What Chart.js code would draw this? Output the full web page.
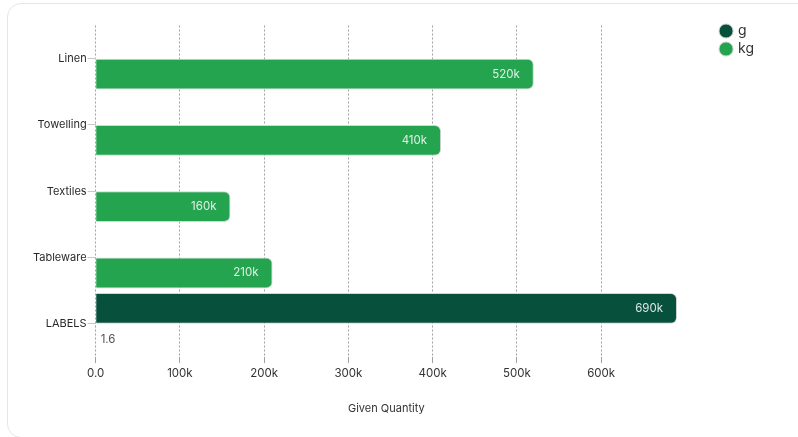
<!DOCTYPE html>
<html>
<head>
<meta charset="utf-8">
<script src="https://cdn.jsdelivr.net/npm/chart.js@4/dist/chart.umd.min.js"></script>
<style>
  html, body { margin: 0; padding: 0; background: #fff; overflow: hidden; }
  .card { position: absolute; left: 7px; top: 3px; width: 900px; height: 433px; border: 1px solid #e6e6e6; border-radius: 14px; }
  .wrap { position: absolute; left: 0; top: 0; width: 798px; height: 437px; }
</style>
</head>
<body>
<div class="card"></div>
<div class="wrap"><canvas id="chart"></canvas></div>
<script>
const categories = ['Linen', 'Towelling', 'Textiles', 'Tableware', 'LABELS'];
const gValues = [null, null, null, null, 690000];
const kgValues = [520000, 410000, 160000, 210000, 1.6];
const seriesNames = ['g', 'kg'];
const axisTitle = 'Given Quantity';

const fmt = v => v >= 1000 ? (v / 1000) + 'k' : Number(v).toFixed(1);

// values written at the end of each bar
const barLabels = {
    id: 'barLabels',
    afterDatasetsDraw(chart) {
        const ctx = chart.ctx;
        ctx.save();
        ctx.font = '11.5px Inter';
        ctx.textBaseline = 'middle';
        chart.data.datasets.forEach((ds, i) => {
            chart.getDatasetMeta(i).data.forEach((bar, j) => {
                const v = ds.data[j];
                if(v == null) return;
                const txt = fmt(v);
                const w = ctx.measureText(txt).width;
                if(bar.x - bar.base > w + 20) {
                    ctx.textAlign = 'right';
                    ctx.fillStyle = 'rgba(255,255,255,0.85)';
                    ctx.fillText(txt, bar.x - 14, bar.y);
                } else {
                    ctx.textAlign = 'left';
                    ctx.fillStyle = '#555';
                    ctx.fillText(txt, bar.x + 5, bar.y);
                }
            });
        });
        ctx.restore();
    }
};

Chart.defaults.font.family = 'Inter';
Chart.defaults.font.size = 12;
Chart.defaults.color = '#333';

// empty spacer axes used only to shape the layout
const spacer = (axis, position, size) => ({
    axis, position,
    grid: { display: false },
    border: { display: false },
    ticks: { display: false },
    afterFit: s => { if(axis === 'y') s.width = size; else s.height = size; }
});

new Chart(document.getElementById('chart'), {
    type: 'bar',
    data: {
        labels: categories,
        datasets: [
            { label: seriesNames[0], data: gValues, backgroundColor: '#07503c', borderColor: '#d4d4d4', borderWidth: 1, borderRadius: 6, xAxisID: 'x', yAxisID: 'y' },
            { label: seriesNames[1], data: kgValues, backgroundColor: '#25a450', borderColor: '#d4d4d4', borderWidth: 1, borderRadius: 6, xAxisID: 'x', yAxisID: 'y' }
        ]
    },
    options: {
        indexAxis: 'y',
        responsive: true,
        maintainAspectRatio: false,
        animation: false,
        categoryPercentage: 0.93,
        barPercentage: 1,
        layout: { padding: { left: 32, top: 20, right: 34, bottom: 18 } },
        scales: {
            x: {
                beginAtZero: true,
                bounds: 'data',
                afterBuildTicks: s => { s.ticks = s.ticks.filter(t => t.value % 100000 === 0); },
                ticks: { stepSize: 100000, padding: 4, font: { size: 11.5 }, callback: v => fmt(v) },
                grid: { color: '#a0a0a0', tickLength: 6 },
                border: { display: false, dash: [2, 2] },
                title: { display: true, text: axisTitle, font: { size: 11 }, padding: { top: 17, bottom: 4 } }
            },
            y: {
                grid: { drawOnChartArea: false, offset: false, color: '#c8c8c8', tickLength: 8 },
                border: { display: false },
                ticks: { padding: 1, font: { size: 11 }, color: '#2a2a2a' }
            },
            gapRight: spacer('y', 'right', 40),
            gapTop: spacer('x', 'top', 5.5)
        },
        plugins: {
            legend: {
                position: 'right',
                align: 'start',
                labels: { usePointStyle: true, pointStyle: 'circle', boxWidth: 10, boxHeight: 10, padding: 4, font: { size: 14 }, color: '#333' }
            },
            tooltip: { enabled: false }
        }
    },
    plugins: [barLabels]
});
</script>
</body>
</html>
